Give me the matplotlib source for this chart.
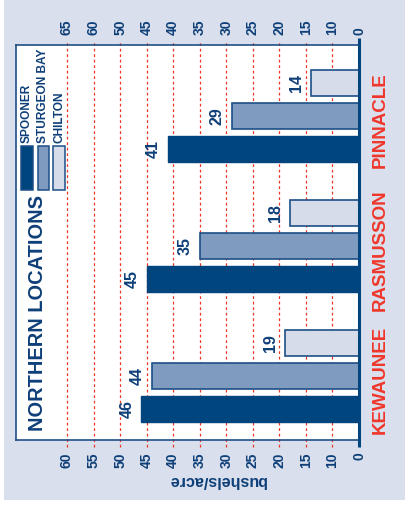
import matplotlib
matplotlib.use('Agg')
import matplotlib.pyplot as plt
from matplotlib.patches import Rectangle
import matplotlib.transforms as mtransforms
import numpy as np

plt.rcParams['font.family'] = ['Liberation Sans', 'DejaVu Sans']

# data
locations = ['KEWAUNEE', 'RASMUSSON', 'PINNACLE']
series_names = ['SPOONER', 'STURGEON BAY', 'CHILTON']
spooner = [46, 45, 41]
sturgeon_bay = [44, 35, 29]
chilton = [19, 18, 14]
tick_pos = [5, 10, 15, 20, 25, 30, 35, 40, 45, 50, 55, 60]
bottom_labels = ['0', '10', '15', '20', '25', '30', '35', '40', '45', '50', '55', '60']
top_labels = ['0', '10', '15', '20', '25', '30', '35', '40', '45', '50', '60', '65']

navy = '#00457d'
mid = '#7f9bc0'
light = '#d6dcea'
edge = '#1d4f86'
txt = '#0e3f78'
red = '#f0372b'
bg = '#d9dfec'

W, H = 405, 508
fig = plt.figure(figsize=(W / 100, H / 100), dpi=100, facecolor='white')


def fx(x):
    return x / W


def fy(y):
    return 1 - y / H


# light panel behind everything
fig.patches.append(Rectangle((fx(4), fy(500)), 1 - fx(4), fy(0) - fy(500),
                             transform=fig.transFigure, facecolor=bg, edgecolor='none', zorder=-5))

ax = fig.add_axes([fx(16), fy(440), fx(359) - fx(16), fy(45) - fy(440)])
ax.set_zorder(1)
ax.set_facecolor('white')
ax.set_xlim(69.6, 5)
ax.set_ylim(-0.492, 2.546)

y = np.arange(len(locations))
off = 0.254
h = 0.2
ax.barh(y - off, spooner, height=h, left=0, color=navy, edgecolor=navy, linewidth=1, zorder=3)
ax.barh(y, sturgeon_bay, height=h, left=0, color=mid, edgecolor=edge, linewidth=1.2, zorder=3)
ax.barh(y + off, chilton, height=h, left=0, color=light, edgecolor=edge, linewidth=1.2, zorder=3)

# value labels
for vals, dy in [(spooner, -off), (sturgeon_bay, 0), (chilton, off)]:
    for i, v in enumerate(vals):
        ax.annotate(str(v), (v, i + dy), xytext=(-5, 0), textcoords='offset points',
                    rotation=90, ha='right', va='center', fontsize=11.5, fontweight='bold',
                    color=txt, zorder=4)

# dashed red grid, a bit past the box
trans = mtransforms.blended_transform_factory(ax.transData, ax.transAxes)
for p in tick_pos[1:]:
    ax.plot([p, p], [-0.018, 1.013], transform=trans, color='#ee3526', lw=0.9,
            linestyle=(0, (2.2, 2.2)), clip_on=False, zorder=2)

# zero axis line
ax.plot([5, 5], [-0.018, 1.018], transform=trans, color=navy, lw=2.2,
        clip_on=False, zorder=5, solid_capstyle='butt')

for s in ['left', 'top', 'bottom']:
    ax.spines[s].set_color(edge)
    ax.spines[s].set_linewidth(1.2)
ax.spines['right'].set_visible(False)

ax.set_yticks([])
ax.set_xticks(tick_pos)
ax.set_xticklabels(bottom_labels, rotation=90, fontsize=10, fontweight='bold', color=txt)
ax.tick_params(axis='x', length=0, pad=9)
ax2 = ax.secondary_xaxis('top')
ax2.set_xticks(tick_pos)
ax2.set_xticklabels(top_labels, rotation=90, fontsize=10, fontweight='bold', color=txt)
ax2.tick_params(axis='x', length=0, pad=7)
ax2.spines['top'].set_visible(False)

# category labels
cat_trans = mtransforms.blended_transform_factory(ax.transAxes, ax.transData)
for i, name in enumerate(locations):
    ax.text(1.063, i - 0.03, name, transform=cat_trans,
            rotation=90, ha='center', va='center', fontsize=13.5, fontweight='bold', color=red,
            clip_on=False)

# title
fig.text(fx(38), fy(313), 'NORTHERN LOCATIONS', rotation=90, ha='center', va='center',
         fontsize=14.4, fontweight='bold', color=txt, zorder=6)

# legend
swatch_x = [21, 37.5, 53.5]
for sx, name, fc in zip(swatch_x, series_names, [navy, mid, light]):
    fig.patches.append(Rectangle((fx(sx), fy(190)), fx(11.5), fy(146) - fy(190),
                                 transform=fig.transFigure, facecolor=fc, edgecolor=edge,
                                 linewidth=1.1, zorder=6))
    fig.text(fx(sx + 5.75), fy(143), name, rotation=90, ha='center', va='bottom',
             fontsize=8.6, fontweight='bold', color=txt, zorder=6)

# axis title, upside down
fig.text(fx(217), fy(480), 'bushels/acre', rotation=180, ha='center', va='center',
         fontsize=11.5, fontweight='bold', color=txt)

fig.savefig('out.png', dpi=100, facecolor='white')
